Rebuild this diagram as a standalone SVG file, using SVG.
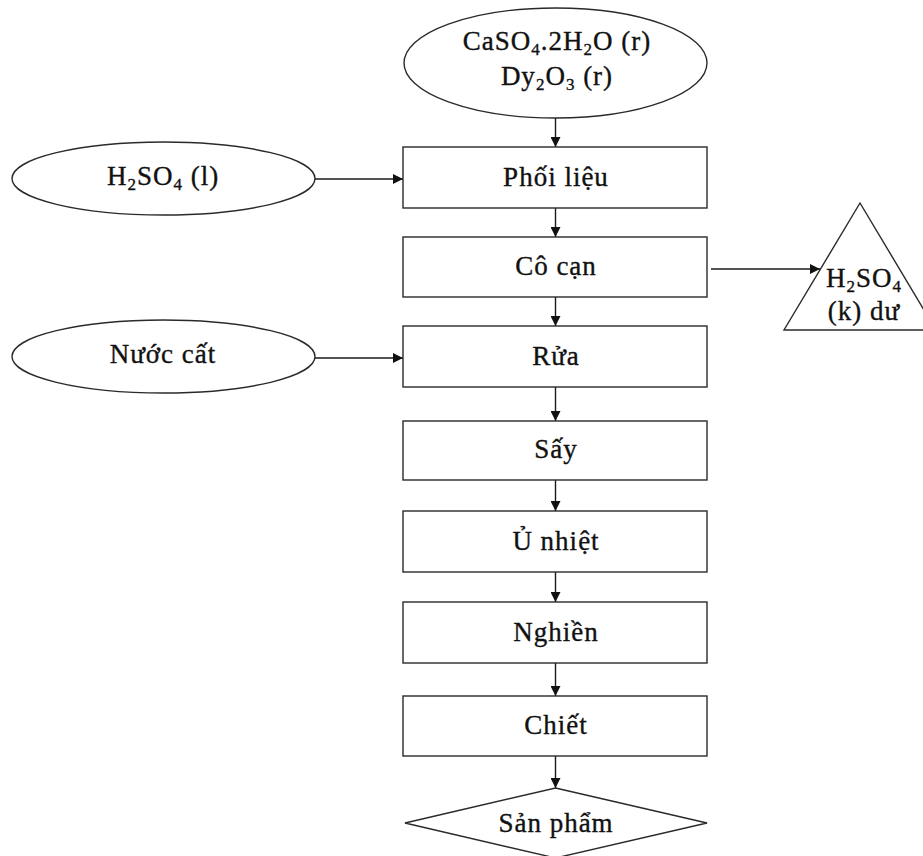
<svg xmlns="http://www.w3.org/2000/svg" width="923" height="856" viewBox="0 0 923 856">
  <style>
    .shape { fill: #ffffff; stroke: #2a2a2a; stroke-width: 1.4; }
    .link { fill: none; stroke: #1a1a1a; stroke-width: 1.4; }
    .label { font-family: "Liberation Serif", "Times New Roman", serif; font-size: 27px; fill: #111111; stroke: #111111; stroke-width: 0.35; text-anchor: middle; letter-spacing: 1px; }
    .sub { font-size: 17px; }
  </style>
  <defs>
    <marker id="arrow" viewBox="0 0 10 10" refX="10" refY="5" markerWidth="10" markerHeight="10" markerUnits="userSpaceOnUse" orient="auto">
      <path d="M0,0 L10,5 L0,10 Z" fill="#111111"/>
    </marker>
  </defs>
  <rect width="923" height="856" fill="#ffffff"/>

  <!-- connectors -->
  <g id="connectors">
    <line class="link" x1="555.5" y1="118" x2="555.5" y2="147" marker-end="url(#arrow)"/>
    <line class="link" x1="315" y1="179" x2="403" y2="179" marker-end="url(#arrow)"/>
    <line class="link" x1="555.5" y1="208" x2="555.5" y2="237" marker-end="url(#arrow)"/>
    <line class="link" x1="711" y1="269" x2="820" y2="269" marker-end="url(#arrow)"/>
    <line class="link" x1="555.5" y1="297" x2="555.5" y2="326" marker-end="url(#arrow)"/>
    <line class="link" x1="315" y1="358" x2="403" y2="358" marker-end="url(#arrow)"/>
    <line class="link" x1="555.5" y1="387" x2="555.5" y2="421" marker-end="url(#arrow)"/>
    <line class="link" x1="555.5" y1="480" x2="555.5" y2="511" marker-end="url(#arrow)"/>
    <line class="link" x1="555.5" y1="572" x2="555.5" y2="602" marker-end="url(#arrow)"/>
    <line class="link" x1="555.5" y1="663" x2="555.5" y2="696" marker-end="url(#arrow)"/>
    <line class="link" x1="555.5" y1="756" x2="555.5" y2="788" marker-end="url(#arrow)"/>
  </g>

  <!-- raw materials -->
  <g id="raw-solids">
    <ellipse class="shape" cx="555.5" cy="63" rx="151.5" ry="55"/>
    <text class="label" x="557" y="50">CaSO<tspan class="sub" dy="5">4</tspan><tspan dy="-5">.2H</tspan><tspan class="sub" dy="5">2</tspan><tspan dy="-5">O (r)</tspan></text>
    <text class="label" x="557" y="85">Dy<tspan class="sub" dy="5">2</tspan><tspan dy="-5">O</tspan><tspan class="sub" dy="5">3</tspan><tspan dy="-5"> (r)</tspan></text>
  </g>

  <g id="acid-input">
    <ellipse class="shape" cx="163.5" cy="178.5" rx="151.5" ry="36.5"/>
    <text class="label" x="163" y="185">H<tspan class="sub" dy="5">2</tspan><tspan dy="-5">SO</tspan><tspan class="sub" dy="5">4</tspan><tspan dy="-5"> (l)</tspan></text>
  </g>

  <g id="water-input">
    <ellipse class="shape" cx="163.5" cy="356.5" rx="151.5" ry="36.5"/>
    <text class="label" x="163" y="363">Nước cất</text>
  </g>

  <!-- process steps -->
  <g id="step-mix">
    <rect class="shape" x="403" y="147" width="304" height="61"/>
    <text class="label" x="556" y="186">Phối liệu</text>
  </g>
  <g id="step-evaporate">
    <rect class="shape" x="403" y="237" width="304" height="60"/>
    <text class="label" x="556" y="275">Cô cạn</text>
  </g>
  <g id="step-wash">
    <rect class="shape" x="403" y="326" width="304" height="61"/>
    <text class="label" x="556" y="365">Rửa</text>
  </g>
  <g id="step-dry">
    <rect class="shape" x="403" y="421" width="304" height="59"/>
    <text class="label" x="556" y="458">Sấy</text>
  </g>
  <g id="step-anneal">
    <rect class="shape" x="403" y="511" width="304" height="61"/>
    <text class="label" x="556" y="550">Ủ nhiệt</text>
  </g>
  <g id="step-grind">
    <rect class="shape" x="403" y="602" width="304" height="61"/>
    <text class="label" x="556" y="641">Nghiền</text>
  </g>
  <g id="step-extract">
    <rect class="shape" x="403" y="696" width="304" height="60"/>
    <text class="label" x="556" y="734">Chiết</text>
  </g>

  <!-- by-product -->
  <g id="acid-vapour">
    <polygon class="shape" points="860,203 784,330 936,330"/>
    <text class="label" x="864" y="287">H<tspan class="sub" dy="5">2</tspan><tspan dy="-5">SO</tspan><tspan class="sub" dy="5">4</tspan></text>
    <text class="label" x="864" y="320">(k) dư</text>
  </g>

  <!-- product -->
  <g id="product">
    <polygon class="shape" points="555.5,788 707,823 555.5,858 405,823"/>
    <text class="label" x="556" y="832">Sản phẩm</text>
  </g>
</svg>
